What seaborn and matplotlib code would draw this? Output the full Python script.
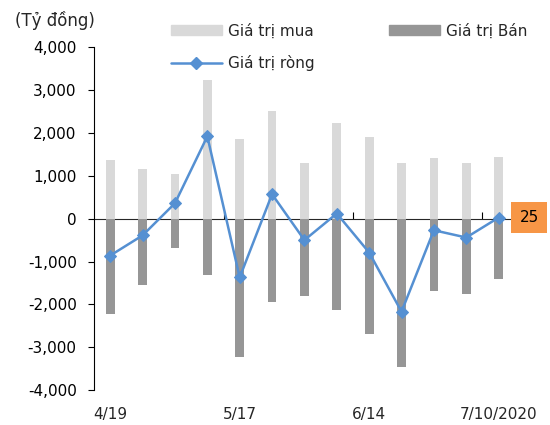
import numpy as np
import pandas as pd
import matplotlib
matplotlib.use("Agg")
import matplotlib.pyplot as plt
from matplotlib.patches import Patch
from matplotlib.lines import Line2D
from matplotlib.ticker import StrMethodFormatter
import seaborn as sns

# weekly data (ty dong)
weeks = ["4/19", "4/26", "5/3", "5/10", "5/17", "5/24", "5/31",
         "6/7", "6/14", "6/21", "6/28", "7/5", "7/10/2020"]
buy = [1370, 1160, 1040, 3240, 1860, 2520, 1300, 2240, 1910, 1290, 1420, 1310, 1430]
sell = [-2230, -1550, -680, -1320, -3230, -1950, -1800, -2120, -2700, -3460, -1690, -1750, -1400]
net = [-860, -390, 360, 1920, -1370, 570, -500, 120, -790, -2170, -270, -440, 25]
shown_labels = ["4/19", "5/17", "6/14", "7/10/2020"]

c_buy = "#D9D9D9"
c_sell = "#969696"
c_net = "#5590D2"
c_box = "#F79646"

sns.set_style("white")
plt.rcParams["font.family"] = ["DejaVu Sans"]
plt.rcParams["axes.unicode_minus"] = False

df = pd.DataFrame({"week": weeks, "buy": buy, "sell": sell, "net": net})
df["pos"] = np.arange(len(df))

fig = plt.figure(figsize=(5.5, 4.25), dpi=100)
ax = fig.add_axes([0.171, 0.082, 0.765, 0.807])

sns.barplot(data=df, x="week", y="buy", color=c_buy, width=0.27,
            saturation=1, linewidth=0, ax=ax)
sns.barplot(data=df, x="week", y="sell", color=c_sell, width=0.27,
            saturation=1, linewidth=0, ax=ax)
sns.lineplot(data=df, x="pos", y="net", color=c_net, marker="D",
             markersize=6, markeredgecolor=c_net, linewidth=1.8,
             sort=False, ax=ax)

ax.set_xlim(-0.5, len(weeks) - 0.5)
ax.set_ylim(-4000, 4000)
ax.set_yticks(np.arange(-4000, 4001, 1000))
ax.yaxis.set_major_formatter(StrMethodFormatter("{x:,.0f}"))
ax.tick_params(axis="y", direction="out", length=4.5, width=0.8,
               labelsize=11, pad=8, left=True, colors="black")

ax.set_xticks([i for i, w in enumerate(weeks) if w in shown_labels])
ax.set_xticklabels(shown_labels)
ax.tick_params(axis="x", length=0, labelsize=11, pad=12)
ax.set_xlabel("")
ax.set_ylabel("")

for s in ["top", "right", "bottom"]:
    ax.spines[s].set_visible(False)
ax.spines["left"].set_color("black")
ax.spines["left"].set_linewidth(0.8)

# category axis at zero
zero_ax = ax.secondary_xaxis(0.5)
zero_ax.set_xticks([3.5, 7.5, 11.5])
zero_ax.set_xticklabels([])
zero_ax.tick_params(direction="out", length=5, width=0.8, colors="black")
zero_ax.spines["bottom"].set_color("black")
zero_ax.spines["bottom"].set_linewidth(1.0)

# last value box
ax.annotate(f"{net[-1]:,}", xy=(df["pos"].iloc[-1], net[-1]),
            xytext=(22, 0), textcoords="offset points",
            ha="center", va="center", fontsize=11, color="black",
            annotation_clip=False,
            bbox=dict(boxstyle="square,pad=0.55", fc=c_box, ec="none"))

fig.text(0.027, 0.952, "(Tỷ đồng)", fontsize=12, ha="left", va="center")

handles = [Patch(color=c_buy), Line2D([], [], color=c_net, marker="D",
                                      markersize=6, linewidth=1.8),
           Patch(color=c_sell)]
labels = ["Giá trị mua", "Giá trị ròng", "Giá trị Bán"]
fig.legend(handles, labels, ncol=2, loc="upper left",
           bbox_to_anchor=(0.285, 0.978), frameon=False, fontsize=11,
           handlelength=3.4, handletextpad=0.35, columnspacing=4.85,
           labelspacing=1.1)

fig.savefig("out.png", dpi=100)
